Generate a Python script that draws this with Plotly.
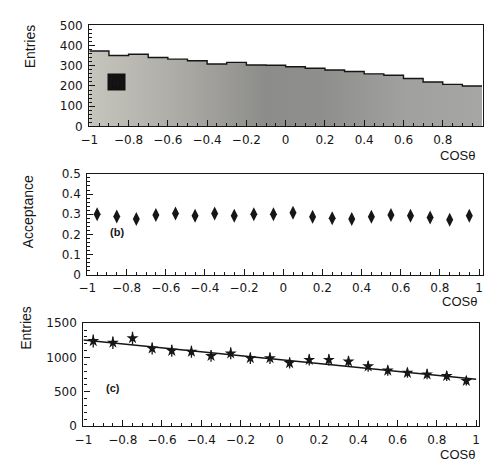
import plotly.graph_objects as go

W, H = 484, 470

# ---------------- data ----------------
# (a) histogram of cos(theta), 20 bins
bin_edges = [-1.0, -0.9, -0.8, -0.7, -0.6, -0.5, -0.4, -0.3, -0.2, -0.1, 0.0,
             0.1, 0.2, 0.3, 0.4, 0.5, 0.6, 0.7, 0.8, 0.9, 1.0]
hist_counts = [373, 351, 357, 341, 333, 325, 309, 317, 304, 303,
               295, 288, 279, 272, 260, 253, 237, 220, 208, 200]

# (b) acceptance per bin
cos_centers = [-0.95, -0.85, -0.75, -0.65, -0.55, -0.45, -0.35, -0.25, -0.15, -0.05,
               0.05, 0.15, 0.25, 0.35, 0.45, 0.55, 0.65, 0.75, 0.85, 0.95]
acceptance = [0.300, 0.289, 0.276, 0.296, 0.304, 0.292, 0.304, 0.292, 0.300, 0.300,
              0.307, 0.288, 0.280, 0.276, 0.288, 0.296, 0.292, 0.284, 0.273, 0.292]
acceptance_err = [0.012] * 20

# (c) acceptance-corrected entries with fit
corrected = [1241, 1217, 1283, 1132, 1099, 1085, 1024, 1061, 991, 991,
             920, 967, 967, 943, 873, 811, 778, 755, 731, 660]
corrected_err = [95, 92, 95, 88, 88, 87, 85, 86, 83, 83,
                 80, 82, 82, 81, 78, 75, 74, 73, 72, 68]
fit_x = [-1.0, 1.0]
fit_y = [1255, 685]

xticks = [-1, -0.8, -0.6, -0.4, -0.2, 0, 0.2, 0.4, 0.6, 0.8, 1]

# ---------------- figure ----------------
fig = go.Figure()
INK = "#161616"

hist_x = bin_edges
hist_y = hist_counts + [hist_counts[-1]]
fig.add_trace(go.Scatter(
    x=hist_x, y=hist_y, mode="lines", line=dict(color=INK, width=1.4, shape="hv"),
    fill="tozeroy",
    fillgradient=dict(type="horizontal",
                      colorscale=[[0.0, "#c6c5bd"], [0.25, "#a9a8a3"], [0.45, "#8c8c8a"],
                                  [0.6, "#8f8f8e"], [0.8, "#a0a09e"], [1.0, "#a6a6a4"]]),
    xaxis="x", yaxis="y", showlegend=False, hoverinfo="skip"))

fig.add_trace(go.Scatter(
    x=cos_centers, y=acceptance, mode="markers",
    marker=dict(symbol="diamond-tall", size=10, color=INK),
    error_y=dict(type="data", array=acceptance_err, color=INK, thickness=1.3, width=0),
    xaxis="x2", yaxis="y2", showlegend=False))

fig.add_trace(go.Scatter(
    x=fit_x, y=fit_y, mode="lines", line=dict(color=INK, width=1.5),
    xaxis="x3", yaxis="y3", showlegend=False))
fig.add_trace(go.Scatter(
    x=cos_centers, y=corrected, mode="markers",
    marker=dict(symbol="star", size=9, color=INK),
    error_y=dict(type="data", array=corrected_err, color=INK, thickness=1.3, width=0),
    xaxis="x3", yaxis="y3", showlegend=False))

FONT = "Liberation Sans, Arial, sans-serif"
TICKFONT = "DejaVu Sans, sans-serif"
tickfont = dict(family=TICKFONT, size=12, color=INK)


def px_dom_y(top, bottom):
    return [1 - bottom / H, 1 - top / H]


def fmt_tick(v):
    if v == 0:
        return "0"
    if abs(v) == 1:
        return "\u22121" if v < 0 else "1"
    return f"{v:.1f}".replace("-", "\u2212")


def xaxis_cfg(left_px, right_px, scale):
    right_px = min(right_px, W)
    upper = -1 + (right_px - left_px) / scale
    return dict(domain=[left_px / W, right_px / W], range=[-1, upper],
                tickmode="array", tickvals=xticks, ticktext=[fmt_tick(v) for v in xticks],
                ticks="inside", ticklen=6, tickwidth=1.2, tickcolor=INK,
                minor=dict(dtick=0.05, tick0=0, ticks="inside", ticklen=3, tickwidth=1.1, tickcolor=INK),
                showline=True, linecolor=INK, linewidth=1.3, mirror=True,
                showgrid=False, zeroline=False, tickfont=tickfont, ticklabelstandoff=2)


def yaxis_cfg(top_px, bottom_px, rng, dtick, mdtick, fmt=None):
    d = dict(domain=px_dom_y(top_px, bottom_px), range=rng, dtick=dtick, tick0=0,
             ticks="inside", ticklen=6, tickwidth=1.2, tickcolor=INK,
             minor=dict(dtick=mdtick, tick0=0, ticks="inside", ticklen=3, tickwidth=1.0, tickcolor=INK),
             showline=True, linecolor=INK, linewidth=1.3, mirror=True,
             showgrid=False, zeroline=False, tickfont=tickfont, ticklabelstandoff=3)
    if fmt:
        d["tickformat"] = fmt
    return d


fig.update_layout(
    width=W, height=H, margin=dict(l=0, r=0, t=0, b=0),
    paper_bgcolor="white", plot_bgcolor="white",
    xaxis=dict(xaxis_cfg(82, 486, 200.5), anchor="y"),
    yaxis=dict(yaxis_cfg(19, 123, [0, 500], 100, 20), anchor="x"),
    xaxis2=dict(xaxis_cfg(80, 486, 200), anchor="y2"),
    yaxis2=dict(yaxis_cfg(172, 276, [0, 0.5], 0.1, 0.02, "~g"), anchor="x2"),
    xaxis3=dict(xaxis_cfg(76, 480, 200.5), anchor="y3"),
    yaxis3=dict(yaxis_cfg(326, 432, [0, 1500], 500, 100), anchor="x3"),
)

ann = []


def pann(text, x, y, size=12, angle=0, bold=False, **kw):
    ann.append(dict(text=f"<b>{text}</b>" if bold else text, x=x / W, y=1 - y / H,
                    xref="paper", yref="paper", showarrow=False, textangle=angle,
                    xanchor="center", yanchor="middle",
                    font=dict(family=FONT, size=size, color=INK), **kw))


pann("Entries", 21, 41, size=14, angle=-90)
pann("Acceptance", 19, 211, size=14, angle=-90)
pann("Entries", 18, 331, size=14, angle=-90)
pann("COSθ", 458, 153, size=13)
pann("COSθ", 460, 304, size=13)
pann("COSθ", 458, 461, size=13)
pann("(a)", 110, 77, size=12, bold=True, bgcolor="#111111", borderpad=1)
pann("(b)", 110, 232, size=11, bold=True)
pann("(c)", 106, 393, size=11, bold=True)
fig.update_layout(annotations=ann)

fig.write_html("out.html", config={"displayModeBar": False},
               post_script="document.body.style.margin='0';document.body.style.overflow='hidden';")
